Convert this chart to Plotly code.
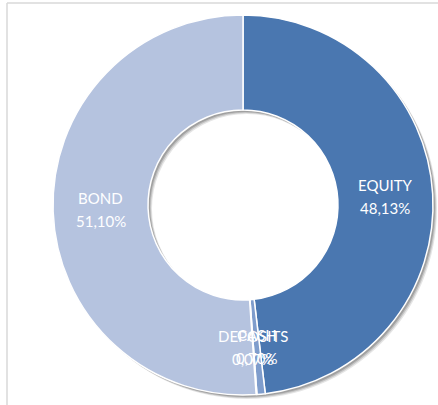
import math
import plotly.graph_objects as go

categories = ["EQUITY", "CASH", "DEPOSITS", "BOND"]
values = [48.13, 0.70, 0.07, 51.10]
colors = ["#4A77B0", "#7F9DCC", "#A9BADA", "#B5C3DF"]

pct_text = [f"{v:.2f}".replace(".", ",") + "%" for v in values]

W, H = 438, 405
cx, cy, R = 243, 205, 190
HOLE = 0.5


def dom(dx=0, dy=0):
    x0 = (cx - R + dx) / W
    x1 = (cx + R + dx) / W
    y0 = 1 - (cy + R + dy) / H
    y1 = 1 - (cy - R + dy) / H
    return dict(x=[x0, x1], y=[y0, y1])


fig = go.Figure()
# soft shadow layers
for off, op in [(4, 0.10), (3, 0.14), (2, 0.18)]:
    fig.add_trace(go.Pie(
        values=[1], hole=HOLE, sort=False, direction="clockwise", rotation=0,
        marker=dict(colors=[f"rgba(0,0,0,{op})"], line=dict(width=0)),
        textinfo="none", hoverinfo="skip", showlegend=False,
        domain=dom(off, off),
    ))

fig.add_trace(go.Pie(
    labels=categories, values=values,
    hole=HOLE, sort=False, direction="clockwise", rotation=0,
    marker=dict(colors=colors, line=dict(color="white", width=1.5)),
    textinfo="none", showlegend=False, domain=dom(),
))

# labels at the middle of the ring for each slice
total = sum(values)
annotations = []
cum = 0.0
rmid = R * (1 + HOLE) / 2
for cat, v, t in zip(categories, values, pct_text):
    mid = (cum + v / 2) / total * 2 * math.pi
    cum += v
    px = cx + rmid * math.sin(mid)
    py = cy - rmid * math.cos(mid)
    for txt, dy in [(cat, -11.5), (t, 11.5)]:
        annotations.append(dict(
            x=px / W, y=1 - (py + dy) / H, xref="paper", yref="paper",
            text=txt, showarrow=False, xanchor="center", yanchor="middle",
            font=dict(family="Lato", size=15, color="white"),
        ))

fig.update_layout(
    width=W, height=H, margin=dict(l=0, r=0, t=0, b=0),
    paper_bgcolor="white", plot_bgcolor="white",
    annotations=annotations,
    shapes=[
        dict(type="line", xref="paper", yref="paper", x0=7 / W, x1=7 / W, y0=0, y1=1 - 3 / H,
             line=dict(color="#D9D9D9", width=1.5)),
        dict(type="line", xref="paper", yref="paper", x0=7 / W, x1=1, y0=1 - 3 / H, y1=1 - 3 / H,
             line=dict(color="#D9D9D9", width=1.5)),
    ],
)

fig.write_html(
    "out.html",
    config={"displayModeBar": False},
    post_script="document.body.style.margin='0';document.body.style.overflow='hidden';",
)
